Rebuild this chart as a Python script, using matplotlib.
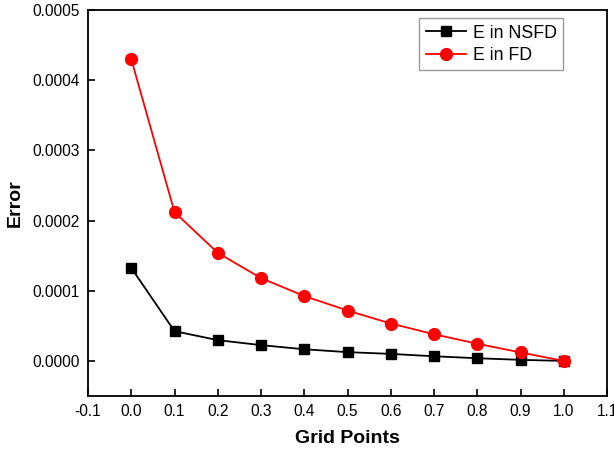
import matplotlib
matplotlib.use("Agg")
import matplotlib.pyplot as plt

x = [0.0, 0.1, 0.2, 0.3, 0.4, 0.5, 0.6, 0.7, 0.8, 0.9, 1.0]
e_nsfd = [0.0001326, 0.0000424, 0.0000296, 0.0000225, 0.0000166, 0.0000125,
          0.0000100, 0.0000066, 0.0000038, 0.0000015, 0.0]
e_fd = [0.000430, 0.000212, 0.000154, 0.000118, 0.0000925, 0.0000718,
        0.0000533, 0.0000380, 0.0000245, 0.0000121, 0.0]
xticks = [-0.1, 0.0, 0.1, 0.2, 0.3, 0.4, 0.5, 0.6, 0.7, 0.8, 0.9, 1.0, 1.1]
yticks = [0.0, 0.0001, 0.0002, 0.0003, 0.0004, 0.0005]

plt.rcParams['font.family'] = ['Liberation Sans', 'DejaVu Sans']

fig = plt.figure(figsize=(6.14, 4.49), dpi=100)
ax = fig.add_axes([88/614, 1-396/449, (607-88)/614, (396-10)/449])

ax.plot(x, e_nsfd, color='black', lw=1.3, marker='s', markersize=7.5,
        label='E in NSFD')
ax.plot(x, e_fd, color='red', lw=1.3, marker='o', markersize=8.5,
        label='E in FD')

ax.set_xlim(-0.1, 1.1)
ax.set_ylim(-0.00005, 0.0005)
ax.set_xticks(xticks)
ax.set_xticklabels([f"{t:.1f}" for t in xticks])
ax.set_yticks(yticks)
ax.set_yticklabels([f"{t:.4f}" for t in yticks])
ax.tick_params(direction='in', length=5, width=1.2, labelsize=11.2,
               top=False, right=False)
ax.tick_params(axis='x', pad=6)
ax.tick_params(axis='y', pad=6)
for s in ax.spines.values():
    s.set_linewidth(1.3)

ax.set_xlabel('Grid Points', fontsize=14, fontweight='bold', labelpad=8)
ax.set_ylabel('Error', fontsize=14, fontweight='bold', labelpad=6)

leg = ax.legend(loc='upper right', bbox_to_anchor=(0.915, 0.978), fontsize=12.8,
                frameon=True, fancybox=False, edgecolor='gray',
                handlelength=2.3, borderpad=0.35, labelspacing=0.3,
                handletextpad=0.35, borderaxespad=0.0)
leg.get_frame().set_linewidth(1.0)

fig.savefig('out.png', dpi=100)
